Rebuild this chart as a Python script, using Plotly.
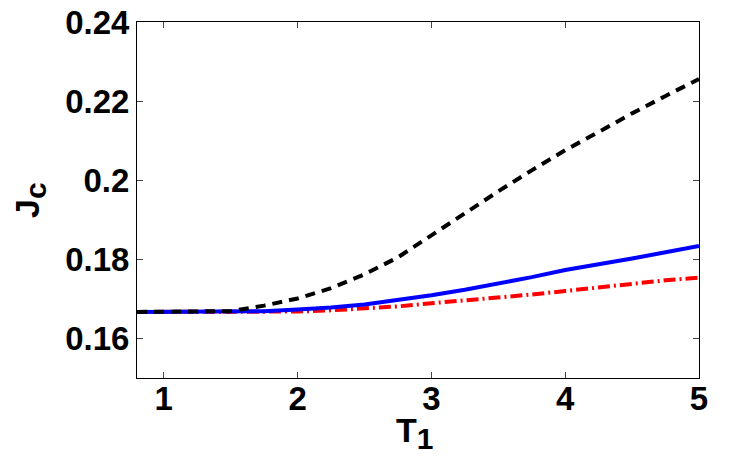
import plotly.graph_objects as go

# T1 values
t1 = [0.8, 1.0, 1.25, 1.5, 1.75, 2.0, 2.25, 2.5, 2.75, 3.0, 3.25, 3.5,
      3.75, 4.0, 4.25, 4.5, 4.75, 5.0]

# Jc curves
jc_black = [0.1667, 0.1667, 0.1667, 0.1669, 0.1683, 0.1701, 0.1727, 0.1762, 0.1805,
            0.1860, 0.1918, 0.1972, 0.2025, 0.2076, 0.2122, 0.2169, 0.2213, 0.2256]
jc_blue = [0.1667, 0.1667, 0.1667, 0.1667, 0.1669, 0.1673, 0.1678, 0.1686, 0.1697,
           0.1709, 0.1723, 0.1738, 0.1755, 0.1773, 0.1787, 0.1802, 0.1818, 0.1834]
jc_red = [0.1667, 0.1667, 0.1667, 0.1667, 0.1667, 0.1668, 0.1671, 0.1675, 0.1681,
          0.1689, 0.1696, 0.1703, 0.1711, 0.1720, 0.1729, 0.1739, 0.1747, 0.1754]

x_ticks = [1, 2, 3, 4, 5]
y_ticks = [0.16, 0.18, 0.2, 0.22, 0.24]
y_tick_labels = ['0.16', '0.18', '0.2', '0.22', '0.24']

fig = go.Figure()
fig.add_trace(go.Scatter(x=t1, y=jc_red, mode='lines',
                         line=dict(color='#ff0000', width=4, dash='12px,4px,2px,4px')))
fig.add_trace(go.Scatter(x=t1, y=jc_blue, mode='lines',
                         line=dict(color='#0000ff', width=4)))
fig.add_trace(go.Scatter(x=t1, y=jc_black, mode='lines',
                         line=dict(color='#000000', width=4, dash='10px,7px')))

tick_font = dict(family='Liberation Sans', size=33, color='black', weight='bold')
title_font = dict(family='Liberation Sans', size=34, color='black')

fig.update_layout(
    width=730, height=475,
    margin=dict(l=137, r=31, t=22, b=97),
    plot_bgcolor='white', paper_bgcolor='white',
    showlegend=False,
    font=title_font,
)
fig.update_xaxes(
    range=[0.8, 5], tickvals=x_ticks, ticks='inside', ticklen=6,
    showline=True, linecolor='black', linewidth=1, mirror='ticks',
    showgrid=False, zeroline=False, automargin=False,
    tickfont=tick_font, ticklabeloverflow='allow', ticklabelstandoff=-9,
)
fig.update_yaxes(
    range=[0.15, 0.24], tickvals=y_ticks, ticktext=y_tick_labels,
    ticks='inside', ticklen=6,
    showline=True, linecolor='black', linewidth=1, mirror='ticks',
    showgrid=False, zeroline=False, automargin=False,
    tickfont=tick_font, ticklabeloverflow='allow',
)

# axis titles
fig.add_annotation(text='<b>T<sub><span style="font-size:30px">1</span></sub></b>',
                   xref='paper', yref='paper', x=0.5, y=0, xanchor='center', yanchor='top',
                   xshift=-4, yshift=-31, showarrow=False, font=title_font)
fig.add_annotation(text='<b>J<sub><span style="font-size:30px">c</span></sub></b>',
                   xref='paper', yref='paper', x=0, y=0.5, xanchor='right', yanchor='middle',
                   xshift=-83, textangle=-90, showarrow=False, font=title_font)

# drop the default page margin so the figure sits at the window corner
fig.write_html("out.html", config={'displayModeBar': False},
               post_script="document.body.style.margin='0';")
